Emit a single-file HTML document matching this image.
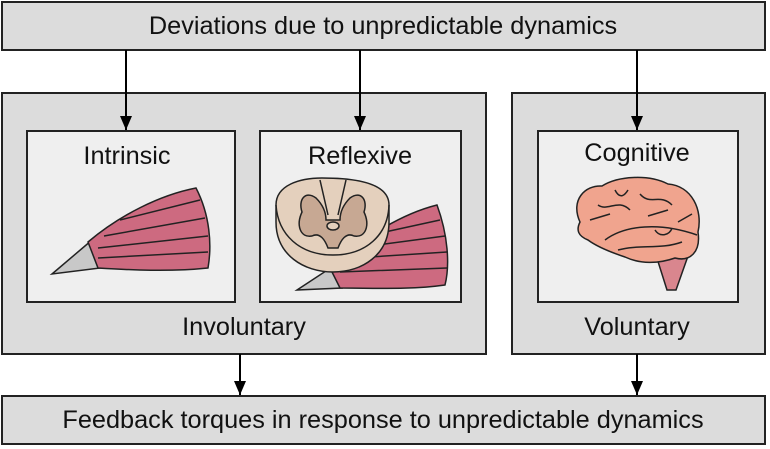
<!DOCTYPE html>
<html><head><style>body{margin:0;background:#fff}svg{display:block}text{font-family:"Liberation Sans",sans-serif;fill:#111}</style></head>
<body>
<svg width="770" height="449" viewBox="0 0 770 449">
<defs><marker id="a" markerWidth="12" markerHeight="14" refX="14" refY="6" orient="auto" markerUnits="userSpaceOnUse"><path d="M0,0 L14,6 L0,12 Z" fill="#000"/></marker></defs>
<g stroke="#222" stroke-width="2" fill="#dcdcdc">
<rect x="2" y="2" width="763" height="48"/>
<rect x="2" y="93" width="484" height="261"/>
<rect x="512" y="93" width="253" height="261"/>
<rect x="2" y="396" width="763" height="48"/>
<rect x="27" y="131" width="208" height="171" fill="#efefef"/>
<rect x="260" y="131" width="201" height="171" fill="#efefef"/>
<rect x="538" y="131" width="200" height="171" fill="#efefef"/>
</g>
<g stroke="#000" stroke-width="2" marker-end="url(#a)">
<line x1="126" y1="50" x2="126" y2="130"/><line x1="360" y1="50" x2="360" y2="130"/><line x1="637" y1="50" x2="637" y2="130"/>
<line x1="240" y1="354" x2="240" y2="395"/><line x1="637" y1="354" x2="637" y2="395"/>
</g>
<g font-size="25.3" text-anchor="middle">
<text x="383" y="34">Deviations due to unpredictable dynamics</text>
<text x="383" y="428">Feedback torques in response to unpredictable dynamics</text>
<text x="127" y="164">Intrinsic</text><text x="360" y="164">Reflexive</text><text x="637" y="161">Cognitive</text>
<text x="244" y="335">Involuntary</text><text x="637" y="335">Voluntary</text>
</g>
<g stroke="#222" stroke-width="1.5">
<path d="M52,274 L92,240 L100,268 Z" fill="#c8c8c8"/>
<path d="M88,242 C120,215 160,195 196,188 C210,215 212,245 208,268 C170,272 130,270 98,268 Z" fill="#cd6a80"/>
<path d="M120,220 L200,200 M104,236 L205,218 M98,248 L208,236 M98,258 L208,252" fill="none"/>
</g>
<g stroke="#222" stroke-width="1.5">
<path d="M297,290 L335,265 L342,288 Z" fill="#c8c8c8"/>
<path d="M330,268 C365,235 405,213 437,205 C448,235 450,265 445,285 C410,290 375,288 340,288 Z" fill="#cd6a80"/>
<path d="M385,232 L440,220 M370,246 L445,236 M355,258 L447,252 M340,272 L447,268" fill="none"/>
<path d="M276,205 C276,185 300,178 322,178 C345,178 389,180 389,205 L389,222 C389,255 362,272 333,272 C304,272 276,255 276,222 Z" fill="#e4d0bd"/>
<path d="M276,205 C278,235 300,255 333,255 C366,255 388,235 389,205" fill="none"/>
<path d="M316,198 C305,190 298,200 302,212 C296,225 300,238 312,236 C320,232 325,240 328,248 L338,248 C341,240 346,232 354,236 C366,238 370,225 364,212 C368,200 361,190 350,198 C343,205 340,212 340,220 L326,220 C326,212 323,205 316,198 Z" fill="#c7a893"/>
<ellipse cx="333" cy="226" rx="6" ry="4" fill="#e4d0bd"/>
<path d="M320,180 L328,215 M346,180 L338,215" fill="none"/>
</g>
<g stroke="#222" stroke-width="1.5">
<path d="M655,252 L667,290 L676,290 L688,256 Z" fill="#d9868e"/>
<path d="M580,222 C570,200 585,185 602,186 C618,176 648,174 668,184 C692,186 703,210 698,232 C701,252 690,262 675,258 C658,264 640,264 625,257 C610,252 596,246 588,240 C578,236 576,230 580,222 Z" fill="#f0a48e"/>
<path d="M605,240 C625,225 660,222 697,235 M598,205 C608,212 618,198 630,210 M640,194 C650,206 660,193 672,205 M618,250 C640,244 660,250 682,242 M590,220 L610,214 M648,216 L668,210 M678,222 L692,214 M615,190 C620,200 625,195 628,190 M655,230 C660,238 670,235 672,228" fill="none"/>
</g>
</svg>
</body></html>
